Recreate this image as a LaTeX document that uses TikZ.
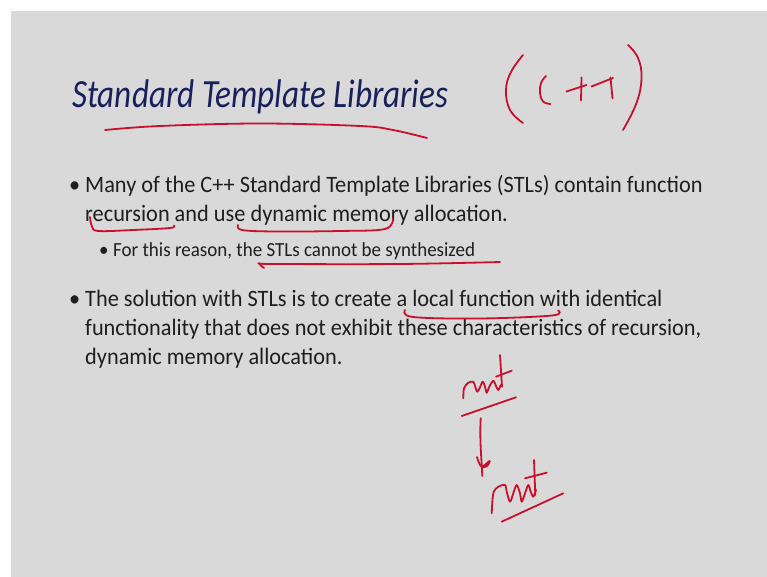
\documentclass[tikz,border=0pt]{standalone}
\usepackage{fontspec}
\setmainfont{Carlito}
\newfontfamily\titlefont{Carlito}[FakeStretch=0.83]
\newfontfamily\bodyfont{Carlito}[FakeStretch=0.95]
\definecolor{slidegray}{RGB}{217,217,217}
\definecolor{titleblue}{RGB}{24,32,92}
\definecolor{bodyblack}{RGB}{30,30,30}
\definecolor{inkred}{RGB}{200,16,46}

\begin{document}
\begin{tikzpicture}[
                x=1pt, y=-1pt,
                txt/.style={
                    anchor=base west,
                    inner sep=0pt,
                    text=bodyblack
                },
                title/.style={
                    txt,
                    text=titleblue,
                    font=\titlefont\fontsize{40}{48}\selectfont\itshape
                },
                body/.style={
                    txt,
                    font=\bodyfont\fontsize{23.5}{28}\selectfont
                },
                small/.style={
                    txt,
                    font=\bodyfont\fontsize{20}{24}\selectfont
                },
                ink/.style={
                    draw=inkred,
                    line width=1.8pt,
                    line cap=round,
                    line join=round
                }]

                \useasboundingbox (0,0) rectangle (767,577);
                \fill [white] (0,0) rectangle (767,577);
                \fill [slidegray] (11,11) rectangle (767,577);

                % slide text
                \node [title] (title) at (72,108) {Standard Template Libraries};

                \node [body] (dot_a) at (69,193) {•};
                \node [body] (line_a1) at (85,193) {Many of the C++ Standard Template Libraries (STLs) contain function};
                \node [body] (line_a2) at (85,222) {recursion and use dynamic memory allocation.};
                \node [small] (dot_b) at (99,256) {•};
                \node [small] (line_b1) at (113,256) {For this reason, the STLs cannot be synthesized};

                \node [body] (dot_c) at (69,306) {•};
                \node [body] (line_c1) at (85,306) {The solution with STLs is to create a local function with identical};
                \node [body] (line_c2) at (85,335) {functionality that does not exhibit these characteristics of recursion,};
                \node [body] (line_c3) at (85,364) {dynamic memory allocation.};

                % ink: title underline and (C++)
                \draw [ink] plot [smooth, tension=0.6] coordinates {(105,130) (160,126) (260,123.5) (360,126) (393,130) (427,138)};
                \draw [ink] plot [smooth, tension=0.7] coordinates {(523,55) (511,72) (506,90) (510,110) (523,123)};
                \draw [ink] plot [smooth, tension=0.7] coordinates {(546,76) (541,83) (540,93) (543,101.5) (550.5,104)};
                \draw [ink] (566.5,91.5) -- (586.5,85);
                \draw [ink] (581.5,77.5) -- (581,100.5);
                \draw [ink] (591.5,86.5) -- (613,78);
                \draw [ink] (610.5,77.5) .. controls (611.5,88) .. (612.5,98.5);
                \draw [ink] plot [smooth, tension=0.7] coordinates {(628,45) (638,58) (641.5,78) (636.5,103) (623,130)};

                % ink: underlines in the text
                \draw [ink] plot [smooth, tension=0.6] coordinates {(90,217) (92,226.5) (98.5,231) (133,230) (170,228) (174,225.5)};
                \draw [ink] plot [smooth, tension=0.6] coordinates {(238,225) (242,230) (275,231.5) (340,231) (385,229) (393,218.5)};
                \draw [ink] plot [smooth, tension=0.6] coordinates {(264,268) (260,263.5) (273,264) (400,264) (500,262)};
                \draw [ink] plot [smooth, tension=0.6] coordinates {(405,310) (413,317) (480,318.5) (552,315.5) (558,310.5)};

                % ink: rent -> rent
                \draw [ink] plot [smooth, tension=0.5] coordinates {(463.3,398.3) (464,388.3) (468.3,382.7) (473.3,381.7) (475,386) (477.3,391.7) (480,387.3) (482.7,381.7) (485,386.7) (486.7,392.7) (489.3,386.7) (493.3,380.7) (496,386) (498.3,390) (500.7,385)};
                \draw [ink] (500,355) .. controls (501,370) .. (502,386.7);
                \draw [ink] (496,376.7) -- (511.7,370.7);
                \draw [ink] (461.7,416) -- (516,397.3);

                \coordinate (rent_top) at (480.7,418.3);
                \coordinate (rent_bottom) at (482.3,476);
                \draw [ink] (rent_top) .. controls (479.5,440) and (481.5,458) .. (rent_bottom);
                \draw [ink] plot [smooth, tension=0.6] coordinates {(477,457) (481.5,466.5) (489.5,461) (487,466) (482,467.5)};

                \draw [ink] plot [smooth, tension=0.5] coordinates {(491.7,513.3) (493.3,493.3) (498.3,486.7) (505,485) (506.7,491.7) (510,501.7) (513.3,493.3) (516.7,485) (520,493.3) (521.7,501.7) (525,493.3) (528.3,485) (530.7,491.7) (533.3,496.7) (536,490)};
                \draw [ink] (534,460) .. controls (534.8,478) .. (535.3,495);
                \draw [ink] (525,478.3) -- (546.7,472.7);
                \draw [ink] (501.7,521.7) -- (563.3,493.3);

            \end{tikzpicture}
\end{document}
